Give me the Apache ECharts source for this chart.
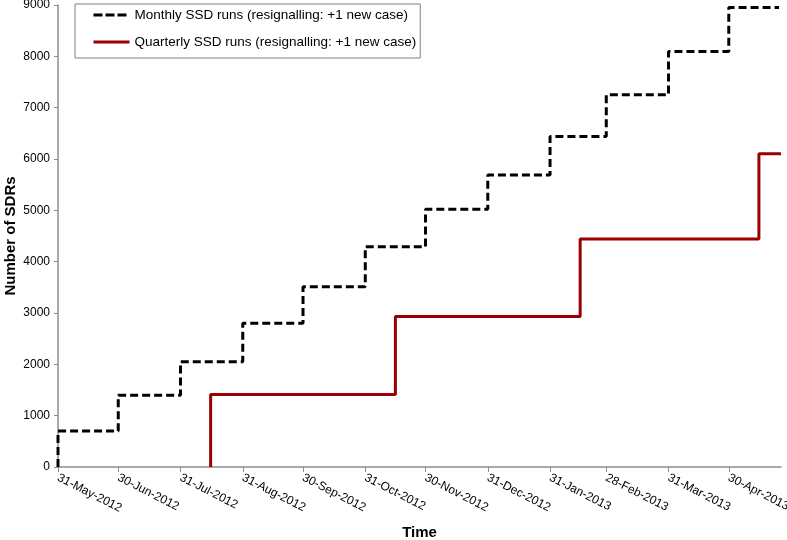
<!DOCTYPE html>
<html>
<head>
<meta charset="utf-8">
<script src="https://cdn.jsdelivr.net/npm/echarts@6/dist/echarts.min.js"></script>
<style>
html,body{margin:0;padding:0;background:#fff;}
#chart{width:787px;height:540px;}
</style>
</head>
<body>
<div id="chart"></div>
<script>
// ---- data ----
var monthlyDates  = ['2012-05-31','2012-05-31','2012-06-30','2012-07-31','2012-08-31','2012-09-30','2012-10-31','2012-11-30','2012-12-31','2013-01-31','2013-02-28','2013-03-31','2013-04-30','2013-05-25'];
var monthlyValues = [0, 700, 1400, 2050, 2800, 3510, 4290, 5020, 5690, 6440, 7250, 8095, 8950, 8950];
var quarterlyDates  = ['2012-08-15','2012-08-15','2012-11-15','2013-02-15','2013-05-15','2013-05-26'];
var quarterlyValues = [0, 1410, 2930, 4440, 6100, 6100];
var tickDates  = ['2012-05-31','2012-06-30','2012-07-31','2012-08-31','2012-09-30','2012-10-31','2012-11-30','2012-12-31','2013-01-31','2013-02-28','2013-03-31','2013-04-30'];
var tickLabels = ['31-May-2012','30-Jun-2012','31-Jul-2012','31-Aug-2012','30-Sep-2012','31-Oct-2012','30-Nov-2012','31-Dec-2012','31-Jan-2013','28-Feb-2013','31-Mar-2013','30-Apr-2013'];
var xMin = '2012-05-31', xMax = '2013-05-26';
var seriesNames = ['Monthly SSD runs (resignalling: +1 new case)', 'Quarterly SSD runs (resignalling: +1 new case)'];

// dates -> day number since xMin (a linear date scale)
function ts(s){ var p = s.split('-'); return Date.UTC(+p[0], +p[1]-1, +p[2]); }
function day(s){ return Math.round((ts(s) - ts(xMin)) / 86400000); }
function pairs(d, v){ return d.map(function(x,i){ return [day(x), v[i]]; }); }
var tickDays = tickDates.map(day);

var FONT = "'Liberation Sans', Arial, sans-serif";
var chart = echarts.init(document.getElementById('chart'));
chart.setOption({
  animation: false,
  backgroundColor: '#fff',
  grid: { left: 58, right: 6, top: 5, bottom: 73, containLabel: false, outerBoundsMode: 'none' },
  legend: {
    orient: 'vertical',
    left: 75, top: 4,
    padding: [4, 4, 9, 17],
    itemGap: 13,
    itemWidth: 36, itemHeight: 14,
    borderColor: '#808080', borderWidth: 1,
    itemStyle: { opacity: 0 },
    textStyle: { fontFamily: FONT, fontSize: 13.5, color: '#000' },
    data: [
      { name: seriesNames[0], lineStyle: { width: 3, type: [9, 3], color: '#000' } },
      { name: seriesNames[1], lineStyle: { width: 3, color: '#990000' } }
    ]
  },
  xAxis: {
    type: 'value',
    min: day(xMin), max: day(xMax),
    name: 'Time', nameLocation: 'middle', nameGap: 58,
    nameTextStyle: { fontFamily: FONT, fontSize: 15, fontWeight: 'bold', color: '#000' },
    axisLine: { lineStyle: { color: '#8c8c8c', width: 1.5 } },
    axisTick: { show: true, customValues: tickDays, length: 5, lineStyle: { color: '#8c8c8c' } },
    splitLine: { show: false },
    axisLabel: {
      customValues: tickDays,
      rotate: -27,
      margin: 10,
      fontFamily: FONT, fontSize: 12, color: '#000',
      formatter: function(v){ var i = tickDays.indexOf(Math.round(v)); return i >= 0 ? tickLabels[i] : ''; }
    }
  },
  yAxis: {
    type: 'value',
    min: 0, max: 9000, interval: 1000,
    name: 'Number of SDRs', nameLocation: 'middle', nameGap: 40, nameRotate: 90,
    nameMoveOverlap: false,
    nameTextStyle: { fontFamily: FONT, fontSize: 15, fontWeight: 'bold', color: '#000' },
    axisLine: { show: true, lineStyle: { color: '#8c8c8c', width: 1.5 } },
    axisTick: { show: true, length: 4, lineStyle: { color: '#8c8c8c' } },
    splitLine: { show: false },
    axisLabel: { fontFamily: FONT, fontSize: 12, color: '#000', margin: 8, formatter: function(v){ return String(v); } }
  },
  series: [
    {
      name: seriesNames[0], type: 'line', step: 'end',
      symbol: 'none', showSymbol: false,
      lineStyle: { color: '#000', width: 3, type: [8, 4] },
      itemStyle: { color: '#000' },
      data: pairs(monthlyDates, monthlyValues)
    },
    {
      name: seriesNames[1], type: 'line', step: 'end',
      symbol: 'none', showSymbol: false,
      lineStyle: { color: '#990000', width: 3 },
      itemStyle: { color: '#990000' },
      data: pairs(quarterlyDates, quarterlyValues)
    }
  ]
});
</script>
</body>
</html>
